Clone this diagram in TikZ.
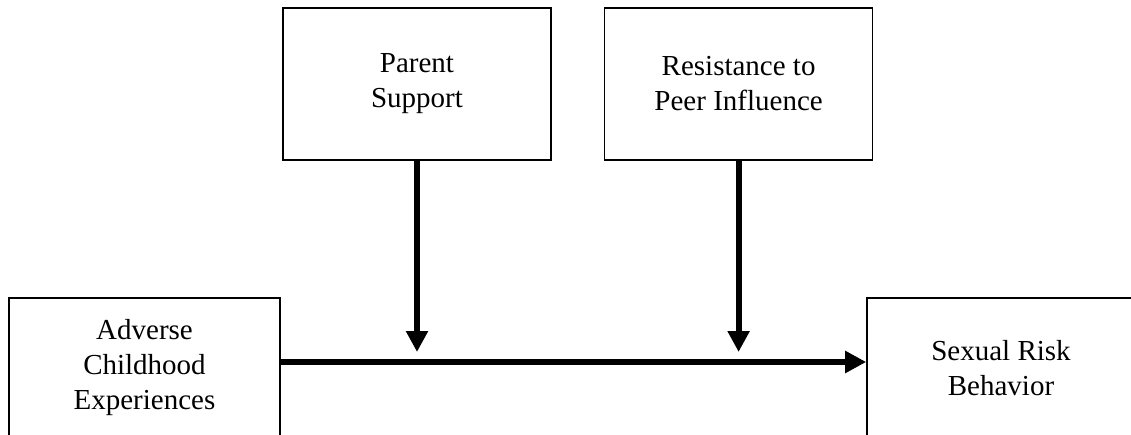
\documentclass[tikz,border=0pt]{standalone}
\usepackage{fontspec}
\setmainfont{Liberation Serif}
\usepackage{tikz}
\usetikzlibrary{positioning,arrows.meta}

\begin{document}
\begin{tikzpicture}[
    x=1pt, y=1pt,
    font=\fontsize{29}{35}\selectfont,
    box/.style={draw, line width=1.6pt, minimum width=268pt,
                minimum height=140pt, align=center, inner sep=0pt},
    arr/.style={-{Triangle[length=21pt,width=21pt]}, line width=6pt}
  ]
    \clip (0,0) rectangle (1131,-435);
    % predictor and outcome
    \node[box, minimum width=271pt] (ACE) at (144.5,-368) {Adverse\\Childhood\\Experiences};
    \node[box] (SRB) at (1001,-368) {Sexual Risk\\Behavior};
    % moderators
    \node[box, minimum height=152pt] (PS) at (417,-84) {Parent\\Support};
    \node[box, minimum height=152pt, right=52pt of PS] (RPI) {Resistance to\\Peer Influence};
    % paths
    \draw[arr] ([yshift=6pt]ACE.east) -- ([yshift=6pt]SRB.west);
    \draw[arr, shorten >=16pt] (PS.south) -- (PS.south |- ACE.east);
    \draw[arr, shorten >=16pt] (RPI.south) -- (RPI.south |- ACE.east);
\end{tikzpicture}
\end{document}
